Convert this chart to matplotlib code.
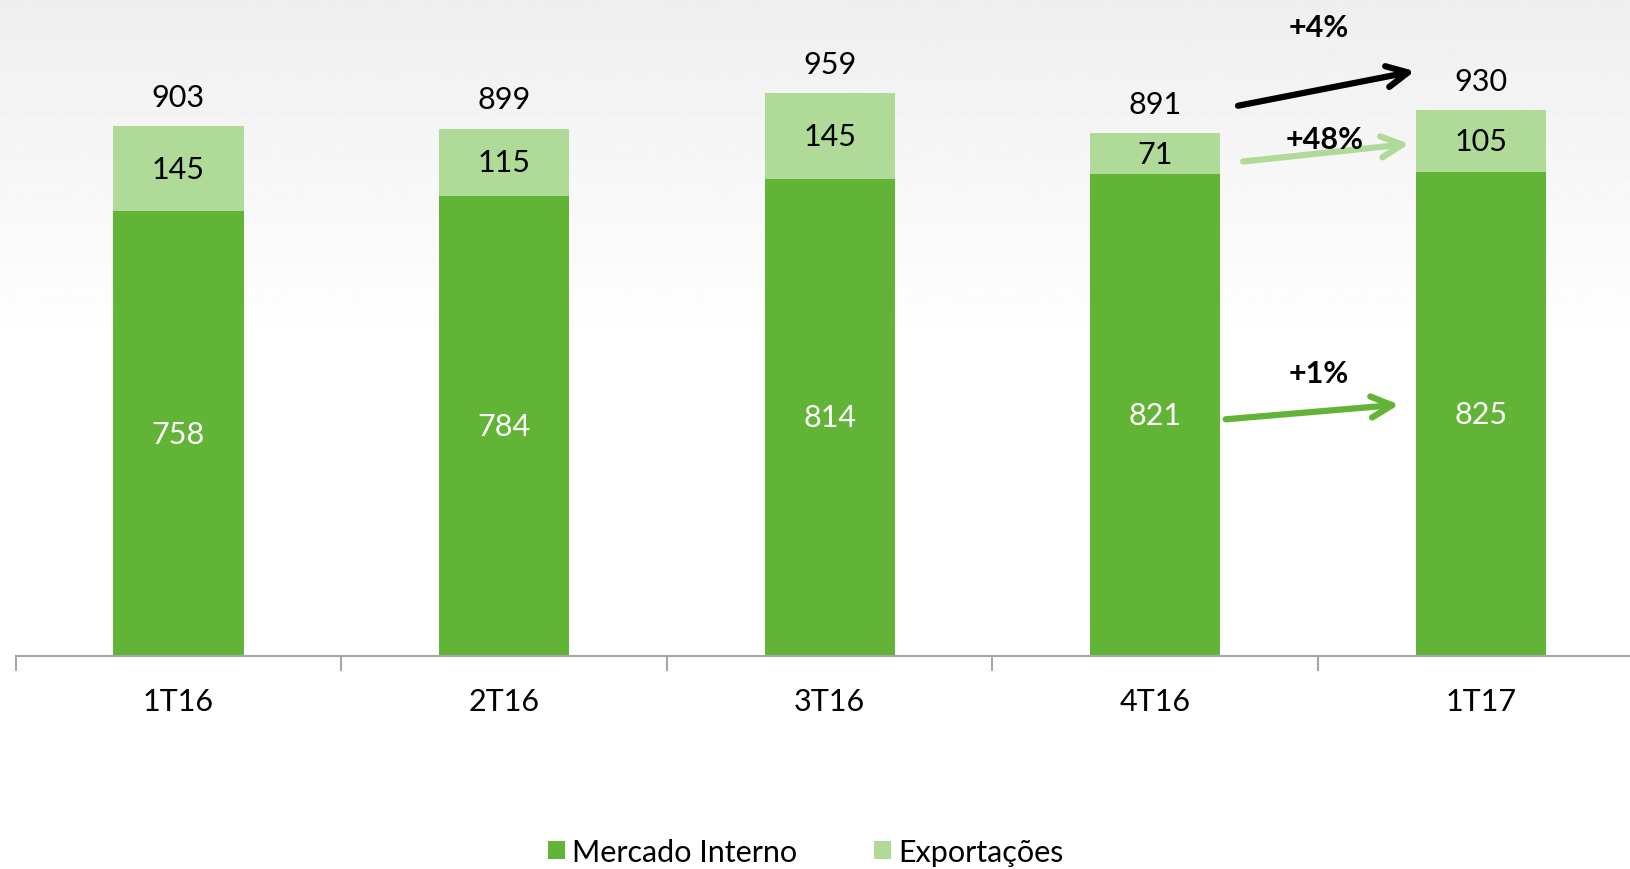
import matplotlib
matplotlib.use("Agg")
import matplotlib.pyplot as plt
import numpy as np

# Data
quarters = ["1T16", "2T16", "3T16", "4T16", "1T17"]
mercado_interno = [758, 784, 814, 821, 825]
exportacoes = [145, 115, 145, 71, 105]
totals = [903, 899, 959, 891, 930]
growth_labels = ["+4%", "+48%", "+1%"]

dark_green = "#62B436"
light_green = "#B0DA98"

plt.rcParams["font.family"] = ["Lato", "DejaVu Sans"]

fig = plt.figure(figsize=(16.31, 8.70), dpi=100)

# soft grey gradient in the background
bg = fig.add_axes([0, 0, 1, 1], zorder=-10)
grad = np.linspace(0.935, 1.0, 200).reshape(-1, 1)
grad = np.vstack([grad, np.ones((300, 1))])
bg.imshow(grad, cmap="gray", vmin=0, vmax=1, aspect="auto", extent=[0, 1, 0, 1])
bg.axis("off")

left = 15.6 / 1631
bottom = (870 - 657) / 870
ax = fig.add_axes([left, bottom, 1 - left, 1 - bottom])
ax.patch.set_alpha(0)

x = np.arange(len(quarters))
w = 0.40
b1 = ax.bar(x, mercado_interno, w, color=dark_green, label="Mercado Interno")
b2 = ax.bar(x, exportacoes, w, bottom=mercado_interno, color=light_green, label="Exportações")

for i in range(len(quarters)):
    ax.text(x[i], mercado_interno[i] / 2, str(mercado_interno[i]), ha="center", va="center",
            color="white", fontsize=22)
    ax.text(x[i], mercado_interno[i] + exportacoes[i] / 2, str(exportacoes[i]), ha="center",
            va="center", color="black", fontsize=22)
    ax.text(x[i], totals[i] + 50, str(totals[i]), ha="center", va="center",
            color="black", fontsize=22)

# growth arrows 4T16 -> 1T17
arrow_kw = dict(arrowstyle="->", mutation_scale=38, shrinkA=0, shrinkB=0,
                capstyle="round", joinstyle="round")
ax.annotate("", xy=(3.797, totals[4] + 67), xytext=(3.254, totals[3] + 47),
            arrowprops=dict(color="black", lw=4.5, **arrow_kw))
ax.annotate("", xy=(3.78, totals[4] - 57), xytext=(3.27, totals[3] - 48),
            arrowprops=dict(color=light_green, lw=4.5, **arrow_kw))
ax.annotate("", xy=(3.749, mercado_interno[4] / 2 + 16), xytext=(3.216, mercado_interno[3] / 2 - 7),
            arrowprops=dict(color=dark_green, lw=4.5, **arrow_kw))

ax.text(3.503, 1073, growth_labels[0], ha="center", va="center", fontsize=22, fontweight="bold")
ax.text(3.519, 882, growth_labels[1], ha="center", va="center", fontsize=22, fontweight="bold")
ax.text(3.503, 483, growth_labels[2], ha="center", va="center", fontsize=22, fontweight="bold")

# axes styling
for s in ["top", "right", "left"]:
    ax.spines[s].set_visible(False)
ax.spines["bottom"].set_color("#A6A6A6")
ax.spines["bottom"].set_linewidth(1.5)
ax.set_yticks([])
ax.set_xticks(np.arange(-0.5, 5, 1.0))
ax.set_xticklabels([])
ax.set_xticks(x, minor=True)
ax.set_xticklabels(quarters, minor=True, fontsize=22)
ax.tick_params(axis="x", which="major", length=11, width=1.5, color="#A6A6A6")
ax.tick_params(axis="x", which="minor", length=0, pad=22)

# limits after ticks so set_xticks does not widen the view
ax.set_xlim(-0.5, 4.461)
ax.set_ylim(0, 1120)

fig.legend(handles=[b1, b2], loc="center", bbox_to_anchor=(0.494, 0.02), ncol=2,
           frameon=False, fontsize=22, handlelength=0.55, handleheight=0.55,
           handletextpad=0.25, columnspacing=2.5)

fig.savefig("out.png", dpi=100)
